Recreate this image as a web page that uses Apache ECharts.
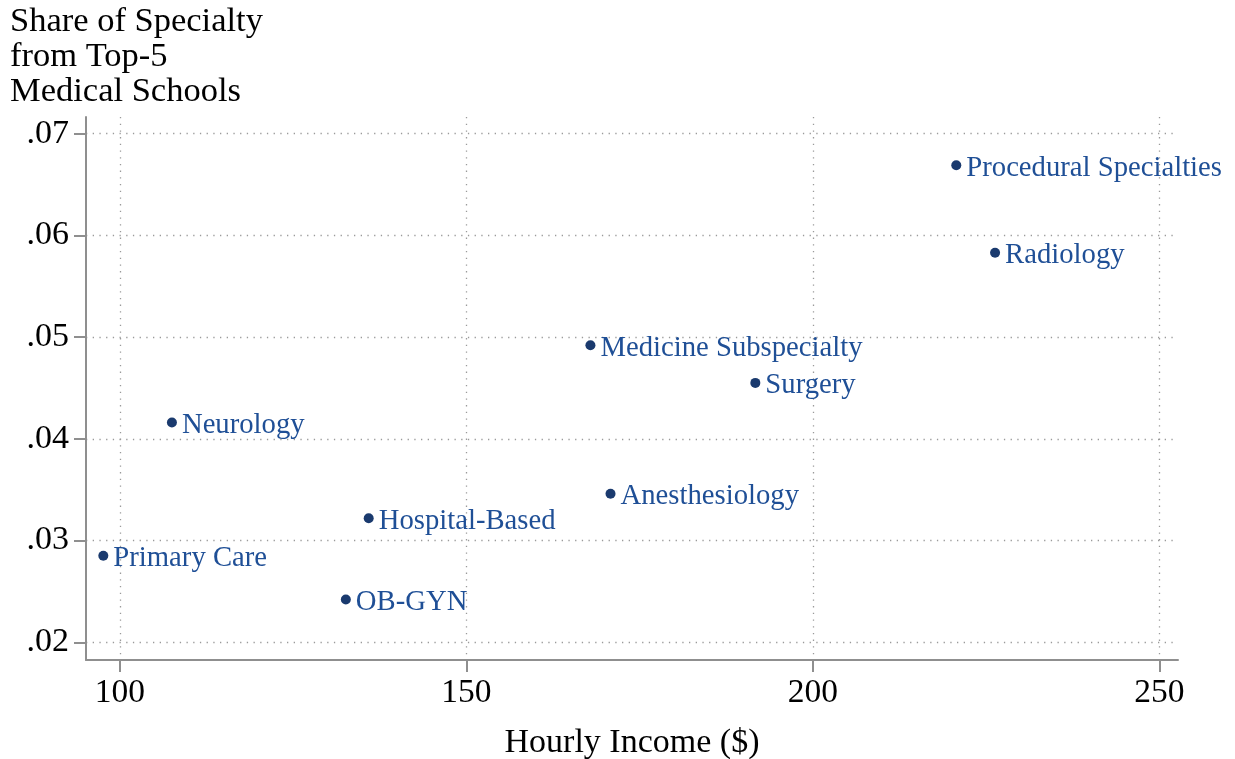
<!DOCTYPE html>
<html>
<head>
<meta charset="utf-8">
<script src="https://cdn.jsdelivr.net/npm/echarts@6/dist/echarts.min.js"></script>
<style>
  html, body { margin: 0; padding: 0; background: #ffffff; }
  #chart { width: 1235px; height: 759px; }
</style>
</head>
<body>
<div id="chart"></div>
<script>
// Specialty groups, hourly income ($) and share of residents from top-5 medical schools
const specialties = [
  'Procedural Specialties', 'Radiology', 'Medicine Subspecialty', 'Surgery',
  'Neurology', 'Anesthesiology', 'Hospital-Based', 'Primary Care', 'OB-GYN'
];
const hourlyIncome = [220.7, 226.3, 167.9, 191.7, 107.5, 170.8, 135.9, 97.6, 132.6];
const topFiveShare = [0.0669, 0.0583, 0.0492, 0.0455, 0.0416, 0.0346, 0.0322, 0.0285, 0.0242];

const xTicks = [100, 150, 200, 250];
const yTicks = [0.02, 0.03, 0.04, 0.05, 0.06, 0.07];

const xTitle = 'Hourly Income ($)';
const yTitleLines = ['Share of Specialty', 'from Top-5', 'Medical Schools'];

const serif = '"Liberation Serif", "Times New Roman", serif';
const axisGray = '#8f8f8f';
const gridDots = { color: '#9a9a9a', width: 1.3, type: [1.3, 5.4] };

const points = specialties.map((name, i) => ({ name, value: [hourlyIncome[i], topFiveShare[i]] }));

const chart = echarts.init(document.getElementById('chart'), null, { renderer: 'canvas' });
chart.setOption({
  animation: false,
  backgroundColor: '#ffffff',
  grid: { left: 86, right: 57, top: 117, bottom: 99, containLabel: false, outerBoundsMode: 'none' },
  graphic: [{
    type: 'text',
    left: 10,
    top: 4,
    style: {
      text: yTitleLines.join('\n'),
      font: '34.5px ' + serif,
      lineHeight: 35,
      fill: '#000000'
    }
  }],
  xAxis: {
    type: 'value',
    min: 95.1,
    max: 252.7,
    name: xTitle,
    nameLocation: 'middle',
    nameGap: 66,
    nameTextStyle: { fontFamily: serif, fontSize: 34, color: '#000000' },
    axisLine: { show: true, onZero: false, lineStyle: { color: axisGray, width: 2 } },
    axisTick: { show: true, length: 12, customValues: xTicks, lineStyle: { color: axisGray, width: 2 } },
    axisLabel: {
      customValues: xTicks,
      margin: 16,
      fontFamily: serif, fontSize: 33.5, color: '#000000',
      formatter: v => String(v)
    },
    splitLine: { show: true, lineStyle: gridDots }
  },
  yAxis: {
    type: 'value',
    min: 0.01826,
    max: 0.07164,
    axisLine: { show: true, onZero: false, lineStyle: { color: axisGray, width: 2 } },
    axisTick: { show: true, length: 12, customValues: yTicks, lineStyle: { color: axisGray, width: 2 } },
    axisLabel: {
      customValues: yTicks,
      margin: 17,
      fontFamily: serif, fontSize: 34, color: '#000000',
      formatter: v => '.' + (Math.round(v * 100)).toString().padStart(2, '0')
    },
    splitLine: { show: true, lineStyle: gridDots }
  },
  series: [{
    type: 'scatter',
    data: points,
    symbol: 'circle',
    symbolSize: 10,
    itemStyle: { color: '#1a3a6e', opacity: 1 },
    label: {
      show: true,
      position: 'right',
      distance: 5,
      offset: [0, 3],
      formatter: p => p.name,
      fontFamily: serif,
      fontSize: 28.7,
      color: '#1f4f96',
      opacity: 1
    },
    emphasis: { disabled: true }
  }]
});
</script>
</body>
</html>
